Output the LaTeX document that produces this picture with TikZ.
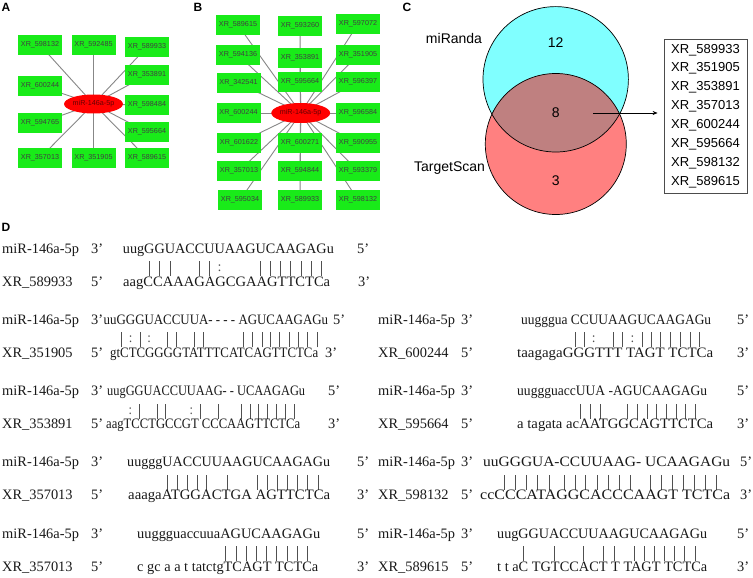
\documentclass[tikz,border=0pt]{standalone}
\usepackage{fontspec}
\setmainfont{Liberation Serif}
\newfontfamily\arialf{Liberation Sans}
\usepackage{graphicx}
\usetikzlibrary{arrows.meta,shapes.geometric,backgrounds}

\definecolor{boxgreen}{RGB}{25,235,25}
\definecolor{edgegray}{RGB}{135,135,135}
\definecolor{venncyan}{RGB}{128,255,255}
\definecolor{vennred}{RGB}{255,128,128}
\definecolor{vennmix}{RGB}{191,128,128}
\definecolor{barcol}{RGB}{80,80,80}
\definecolor{seqcol}{RGB}{25,25,25}

\newcommand\dfont{\fontsize{14.4pt}{16pt}\selectfont}

\makeatletter
\newcommand\alnch[1]{\if*#1\ \else#1\fi}
\newcommand\alnseq[1]{\aln@s#1\@nil}
\def\aln@s#1#2\@nil{\hbox{\alnch{#1}}\if\relax\detokenize{#2}\relax\else\aln@s#2\@nil\fi}
\newcommand\alnbars[2]{\aln@b#1\@nil#2\@nil}
\def\aln@b#1#2\@nil#3#4\@nil{\setbox\z@\hbox{\alnch{#1}}\hbox to\wd\z@{\hss\aln@mk{#3}\hss}\if\relax\detokenize{#2}\relax\else\aln@b#2\@nil#4\@nil\fi}
\def\aln@mk#1{\if b#1\rule[-1pt]{0.75pt}{15pt}\else\if c#1\raisebox{3.5pt}{:}\fi\fi}
\makeatother

\newcommand\mirrow[9]{%
  \node[seqtext] (#1l) at (#2,#7) {miR-146a-5p};
  \node[seqtext] (#1p) at (#3,#7) {3’};
  \node[seqtext] (#1s) at (#4,#7) {\resizebox{#5pt}{\height}{\alnseq{#8}}};
  \node[seqtext] (#1e) at (#6,#7) {5’};
  \node[seqtext,text=barcol] (#1b) at (#4,{#7+22}) {\resizebox{#5pt}{\height}{\alnbars{#8}{#9}}};}
\newcommand\tgtrow[9]{%
  \node[seqtext] (#1l) at (#2,#7) {#8};
  \node[seqtext] (#1p) at (#3,#7) {5’};
  \node[seqtext] (#1s) at (#4,#7) {\resizebox{#5pt}{\height}{#9}};
  \node[seqtext] (#1e) at (#6,#7) {3’};}

\begin{document}
\begin{tikzpicture}[x=1pt,y=-1pt,
  gbox/.style={rectangle,fill=boxgreen,minimum width=44pt,minimum height=20pt,inner sep=0pt,
    font=\arialf\fontsize{7.2pt}{8pt}\selectfont,text=black!75},
  hub/.style={ellipse,fill=red,minimum width=45pt,minimum height=19pt,inner sep=0pt,
    font=\arialf\fontsize{7.2pt}{8pt}\selectfont,text=black!60!red},
  link/.style={draw=edgegray,line width=0.9pt},
  panel/.style={font=\arialf\bfseries\fontsize{12pt}{14pt}\selectfont,inner sep=0pt},
  vtext/.style={font=\arialf\fontsize{14pt}{16pt}\selectfont,inner sep=0pt},
  seqtext/.style={anchor=base west,inner sep=0pt,font=\dfont,text=seqcol}]

\begin{scope}[on background layer]
\fill[white] (0,0) rectangle (753,578);
\end{scope}
\useasboundingbox (0,0) rectangle (753,578);

% panel labels
\node[panel] (labA) at (6,7) {A};
\node[panel] (labB) at (198,7) {B};
\node[panel] (labC) at (407,7) {C};
\node[panel] (labD) at (6,227) {D};

% ---------- panel A ----------
\node[hub] (ahub) at (93.5,104) {miR-146a-5p};
\node[gbox] (a1) at (40,45) {XR\_598132};
\node[gbox] (a2) at (93.5,45) {XR\_592485};
\node[gbox] (a3) at (147,47) {XR\_589933};
\node[gbox] (a4) at (147,75) {XR\_353891};
\node[gbox] (a5) at (40,86) {XR\_600244};
\node[gbox] (a6) at (147,105) {XR\_598484};
\node[gbox] (a7) at (40,123) {XR\_594765};
\node[gbox] (a8) at (147,132) {XR\_595664};
\node[gbox] (a9) at (40,158) {XR\_357013};
\node[gbox] (a10) at (93.5,158) {XR\_351905};
\node[gbox] (a11) at (147,158) {XR\_589615};
\begin{scope}[on background layer]
\foreach \n in {a1,a2,a3,a4,a5,a6,a7,a8,a9,a10,a11}
  \draw[link] (ahub.center) -- (\n.center);
\end{scope}

% ---------- panel B ----------
\node[hub,minimum width=47pt,minimum height=20pt] (bhub) at (300.7,113) {miR-146a-5p};
\node[gbox] (b1) at (238,25) {XR\_589615};
\node[gbox] (b2) at (300,26) {XR\_593260};
\node[gbox] (b3) at (358,24) {XR\_597072};
\node[gbox] (b4) at (238,55) {XR\_594136};
\node[gbox] (b5) at (300,58) {XR\_353891};
\node[gbox] (b6) at (358,55) {XR\_351905};
\node[gbox] (b7) at (238.5,83) {XR\_342541};
\node[gbox] (b8) at (300,82) {XR\_595664};
\node[gbox] (b9) at (358,82) {XR\_596397};
\node[gbox] (b10) at (238.5,113) {XR\_600244};
\node[gbox] (b11) at (358,113) {XR\_596584};
\node[gbox] (b12) at (239,143) {XR\_601622};
\node[gbox] (b13) at (300,143) {XR\_600271};
\node[gbox] (b14) at (358,143) {XR\_590955};
\node[gbox] (b15) at (239,171) {XR\_357013};
\node[gbox] (b16) at (300,171) {XR\_594844};
\node[gbox] (b17) at (358,171) {XR\_593379};
\node[gbox] (b18) at (240,200) {XR\_595034};
\node[gbox] (b19) at (300,200) {XR\_589933};
\node[gbox] (b20) at (358,200) {XR\_598132};
\begin{scope}[on background layer]
\foreach \n in {b1,b2,b3,b4,b5,b6,b7,b8,b9,b10,b11,b12,b13,b14,b15,b16,b17,b18,b19,b20}
  \draw[link] (bhub.center) -- (\n.center);
\end{scope}

% ---------- panel C ----------
\coordinate (cA) at (555.7,79.3);
\coordinate (cB) at (555.8,144);
\fill[venncyan] (cA) circle[radius=72.7];
\fill[vennred] (cB) circle[radius=70.5];
\begin{scope}
  \clip (cA) circle[radius=72.7];
  \fill[vennmix] (cB) circle[radius=70.5];
\end{scope}
\draw[line width=0.7pt] (cA) circle[radius=72.7];
\draw[line width=0.7pt] (cB) circle[radius=70.5];
\node[vtext] (tmir) at (454,38) {miRanda};
\node[vtext] (tts) at (449.5,168) {TargetScan};
\node[vtext] (n12) at (555.7,43) {12};
\node[vtext] (n8) at (555.7,113) {8};
\node[vtext] (n3) at (555.7,181) {3};
\node[draw=black!70,line width=0.8pt,minimum width=83pt,minimum height=154pt,inner sep=0pt,
  align=left,font=\arialf\fontsize{13pt}{18.9pt}\selectfont] (listbox) at (705.5,116)
  {XR\_589933\\XR\_351905\\XR\_353891\\XR\_357013\\XR\_600244\\XR\_595664\\XR\_598132\\XR\_589615};
\coordinate (arrS) at (593,113);
\draw[-{Stealth[length=5pt,width=4pt]},line width=0.7pt,shorten >=6pt] (arrS) -- (arrS -| listbox.west);

% ---------- panel D ----------
\mirrow{ra}{2}{91}{122.7}{211}{357}{253}{uugGGUACCUUAAGUCAAGAGu}{nnnbbbnnbbcnnnbbbbbbbn}
\tgtrow{rat}{2}{91}{123}{207}{358}{286}{XR\_589933}{aagCCAAAGAGCGAAGTTCTCa}

\mirrow{rb}{2}{91}{103.5}{224.5}{333}{324.3}{uuGGGUACCUUA-*-*-*-*AGUCAAGAGu}{nnbcbcnbbnbbnnnnnnnnbbbbbbbbbn}
\tgtrow{rbt}{2}{91}{110}{208}{325}{357.3}{XR\_351905}{gtCTCGGGGTATTTCATCAGTTCTCa}

\mirrow{rc}{2}{91}{107}{198}{328}{395.5}{uugGGUACCUUAAG-*-*UCAAGAGu}{nnncbnbbnncbnbnnnnbbbbbbbn}
\tgtrow{rct}{2}{91}{106}{194}{328}{428.5}{XR\_353891}{aagTCCTGCCGT CCCAAGTTCTCa}

\mirrow{rd}{2}{91}{127}{203}{357}{466.8}{uugggUACCUUAAGUCAAGAGu}{nnnnnbbbbbnbnnbbbbbbbn}
\tgtrow{rdt}{2}{91}{128}{202}{357}{499.8}{XR\_357013}{aaagaATGGACTGA AGTTCTCa}

\mirrow{re}{2}{91}{137}{183}{357}{538}{uuggguaccuuaAGUCAAGAGu}{nnnnnnnnnnnnbbbbbbbbbn}
\tgtrow{ret}{2}{91}{137}{181}{357}{571}{XR\_357013}{c gc a a t tatctgTCAGT TCTCa}

\mirrow{rf}{378}{461}{521}{190}{737}{324.3}{uugggua*CCUUAAGUCAAGAGu}{nnnnnnnnbbcnbbcbbbbbbbn}
\tgtrow{rft}{378}{461}{517}{196}{737}{357.3}{XR\_600244}{taagagaGGGTTT TAGT TCTCa}

\mirrow{rg}{378}{461}{517}{190}{737}{395.5}{uuggguaccUUA*-AGUCAAGAGu}{nnnnnnnnnbbbnnnbbbbbbbbn}
\tgtrow{rgt}{378}{461}{517}{196}{737}{428.5}{XR\_595664}{a tagata acAATGGCAGTTCTCa}

\mirrow{rh}{378}{461}{483}{247}{740}{466.8}{uuGGGUA-CCUUAAG-*UCAAGAGu}{nnbbbbbnbbbbbbbnnbbbbbbbn}
\tgtrow{rht}{378}{461}{480}{250}{740}{499.8}{XR\_598132}{ccCCCATAGGCACCCAAGT TCTCa}

\mirrow{ri}{378}{461}{497}{210}{737}{538}{uugGGUACCUUAAGUCAAGAGu}{nnnbnnbnnbnbbnbbbbbbbn}
\tgtrow{rit}{378}{461}{497}{210}{737}{571}{XR\_589615}{t t aC TGTCCACT T TAGT TCTCa}

\end{tikzpicture}
\end{document}
